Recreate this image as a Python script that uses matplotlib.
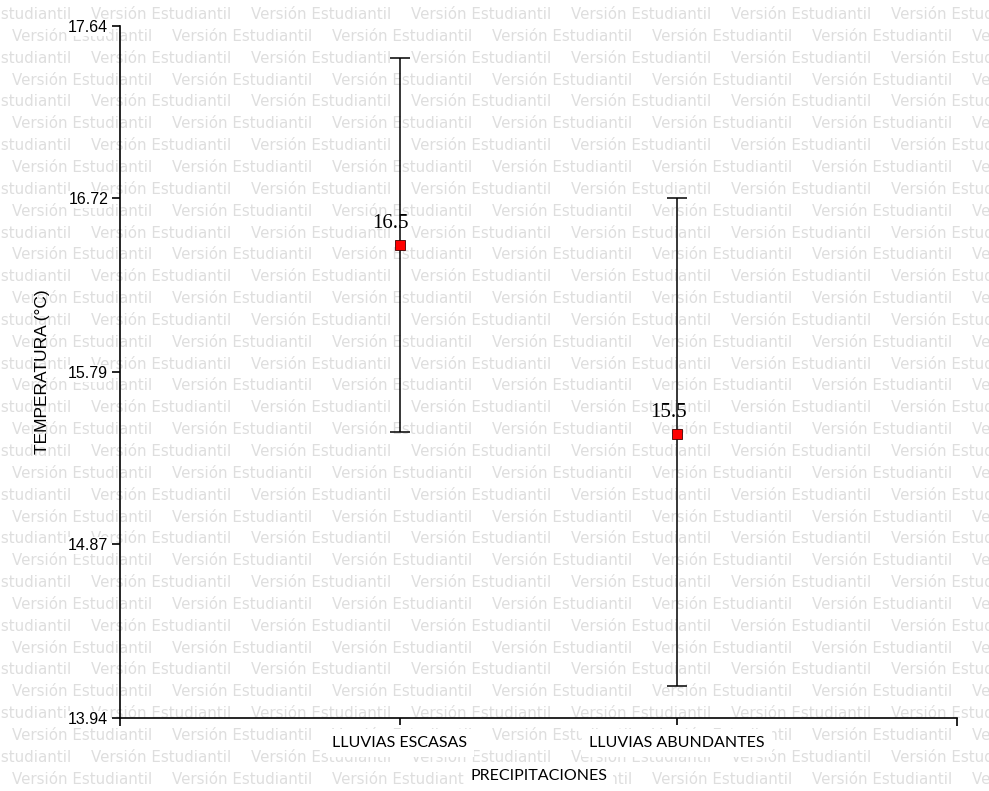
import matplotlib
matplotlib.use("Agg")
import matplotlib.pyplot as plt
from matplotlib.ticker import FixedLocator, NullFormatter

# Data: mean temperature per rainfall group with interval limits
categories = ["LLUVIAS ESCASAS", "LLUVIAS ABUNDANTES"]
means = [16.47, 15.46]
lower = [15.47, 14.11]
upper = [17.47, 16.72]
y_ticks = [13.94, 14.87, 15.79, 16.72, 17.64]
x_label = "PRECIPITACIONES"
y_label = "TEMPERATURA (°C)"
watermark = "Versión Estudiantil"

W, H, DPI = 989, 791, 100
fig = plt.figure(figsize=(W / DPI, H / DPI), dpi=DPI)
fig.patch.set_facecolor("white")

# Background watermark rows
row_y0, row_step, col_step = 14.5, 21.85, 160
n_rows = 37
for k in range(n_rows):
    ypx = row_y0 + row_step * k
    x0 = 12 if k % 2 == 1 else -69
    for j in range(8):
        xpx = x0 + col_step * j
        fig.text(xpx / W, 1 - ypx / H, watermark, ha="left", va="center",
                 fontsize=10.8, family="DejaVu Sans", color="#dedede", zorder=-10)

ax = fig.add_axes([120 / W, 1 - 718 / H, (957 - 120) / W, (718 - 26) / H])
ax.set_facecolor("none")

xpos = [i + 1 for i in range(len(categories))]
yerr = [[m - lo for m, lo in zip(means, lower)], [hi - m for m, hi in zip(means, upper)]]
ax.errorbar(xpos, means, yerr=yerr, fmt="none", ecolor="black", elinewidth=1.1,
            capsize=7, capthick=1.1, zorder=3)
ax.plot(xpos, means, linestyle="none", marker="s", markersize=6.5,
        markerfacecolor="#ff0000", markeredgecolor="#400000", markeredgewidth=0.6, zorder=4)

for x, m in zip(xpos, means):
    ax.annotate(f"{m:.1f}", xy=(x, m), xytext=(-6.5, 11.8), textcoords="offset points",
                ha="center", va="baseline", fontsize=15, family="Liberation Serif",
                color="black", zorder=5)

ax.set_xlim(-0.01, 3.01)
ax.set_ylim(y_ticks[0], y_ticks[-1])

for side in ("top", "right"):
    ax.spines[side].set_visible(False)
for side in ("left", "bottom"):
    ax.spines[side].set_linewidth(1.2)
    ax.spines[side].set_color("black")

ax.set_yticks(y_ticks)
ax.set_yticklabels([f"{v:.2f}" for v in y_ticks], family="Liberation Sans", fontsize=11.5)
ax.tick_params(axis="y", direction="out", length=6, width=1.2, pad=2.5)
for lbl in ax.get_yticklabels():
    lbl.set_bbox(dict(facecolor="white", edgecolor="none", pad=0.5))

ax.set_xticks(xpos)
ax.set_xticklabels(categories, family="Lato", fontsize=11.5)
ax.tick_params(axis="x", direction="out", length=5, width=1.2, pad=8)
ax.xaxis.set_minor_locator(FixedLocator(list(ax.get_xlim())))
ax.xaxis.set_minor_formatter(NullFormatter())
ax.tick_params(axis="x", which="minor", direction="out", length=6, width=1.2)
for lbl in ax.get_xticklabels():
    lbl.set_bbox(dict(facecolor="white", edgecolor="none", pad=5))

ax.set_xlabel(x_label, family="Lato", fontsize=11.5, labelpad=14,
              bbox=dict(facecolor="white", edgecolor="none", pad=4))
ax.set_ylabel(y_label, family="Liberation Sans", fontsize=12.5, labelpad=13)

fig.savefig("out.png", dpi=DPI, facecolor="white")
